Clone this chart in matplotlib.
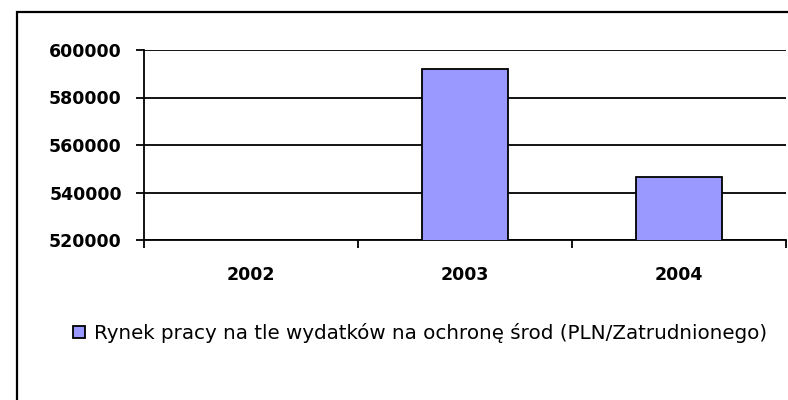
import matplotlib
matplotlib.use("Agg")
import matplotlib.pyplot as plt
import numpy as np
from matplotlib.patches import Rectangle

categories = ["2002", "2003", "2004"]
values = [np.nan, 592000, 546500]
series_name = "Rynek pracy na tle wydatków na ochronę środ (PLN/Zatrudnionego)"
yticks = [520000, 540000, 560000, 580000, 600000]

W, H = 788, 400
fig = plt.figure(figsize=(W / 100, H / 100), dpi=100)
fig.patch.set_facecolor("white")

# outer chart border (runs past the right and bottom edge)
fig.patches.append(Rectangle((17 / W, -0.1), 1.2, (400 - 12) / H + 0.1,
                             transform=fig.transFigure, fill=False,
                             edgecolor="black", linewidth=1.6))

ax = fig.add_axes([144 / W, (400 - 240) / H, (786 - 144) / W, 190 / H])
x = np.arange(len(categories))
bars = ax.bar(x, values, width=0.4, color="#9999FF", edgecolor="black",
              linewidth=1.3, label=series_name, zorder=3)
ax.set_ylim(520000, 600000)
ax.set_xlim(-0.5, len(categories) - 0.5)
ax.set_yticks(yticks)
ax.set_yticklabels([str(v) for v in yticks])
ax.yaxis.grid(True, color="black", linewidth=1.3, zorder=1)
ax.set_axisbelow(True)

ax.set_xticks(x)
ax.set_xticklabels(categories)
ax.set_xticks(np.arange(-0.5, len(categories)), minor=True)
ax.tick_params(axis="x", which="major", length=0, pad=19)
ax.tick_params(axis="x", which="minor", length=6, width=1.3, direction="out")
ax.tick_params(axis="y", length=6, width=1.3, direction="out", pad=10)

for lab in ax.get_xticklabels() + ax.get_yticklabels():
    lab.set_fontfamily("DejaVu Sans")
    lab.set_fontweight("bold")
    lab.set_fontsize(12.5)

for s in ["top", "right"]:
    ax.spines[s].set_visible(False)
for s in ["left", "bottom"]:
    ax.spines[s].set_linewidth(1.3)

leg = ax.legend(loc="center left", bbox_to_anchor=(73 / W, 1 - 333 / H),
                bbox_transform=fig.transFigure, frameon=False,
                handlelength=0.6, handleheight=0.6, handletextpad=0.45,
                borderpad=0, borderaxespad=0,
                prop={"family": "DejaVu Sans", "size": 14.35})

fig.savefig("out.png", dpi=100, facecolor="white")
